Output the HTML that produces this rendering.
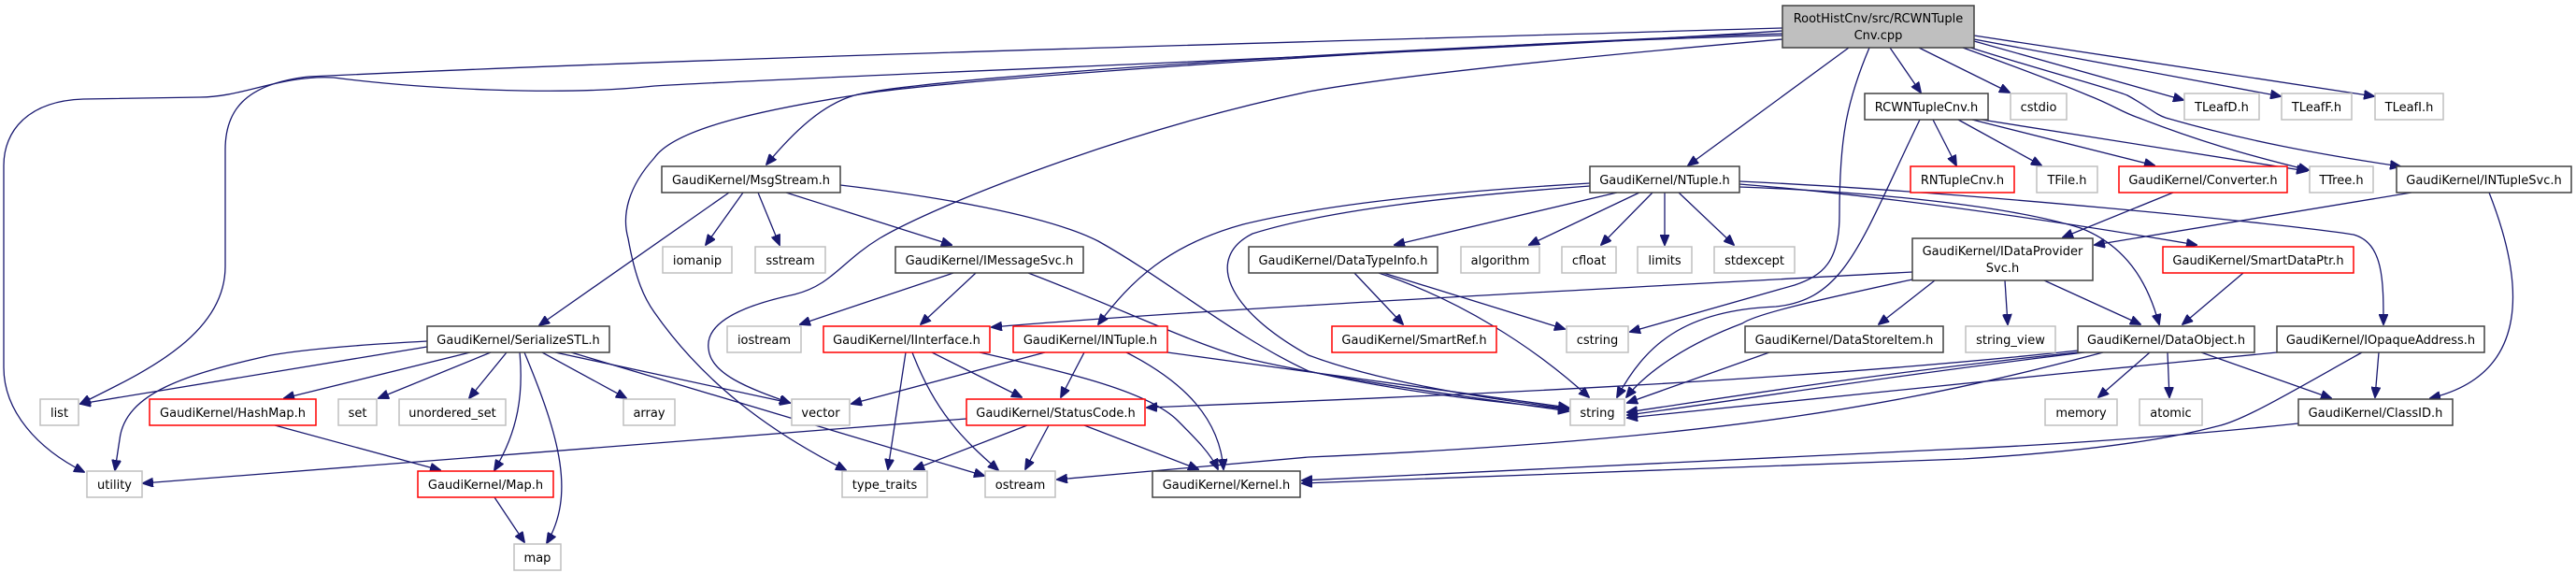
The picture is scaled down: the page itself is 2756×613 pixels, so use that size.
<!DOCTYPE html>
<html><head><meta charset="utf-8"><style>
html,body{margin:0;padding:0;background:#fff;}
svg{display:block;}
text{font-family:"DejaVu Sans","Liberation Sans",sans-serif;font-size:13px;fill:#000;text-anchor:middle;}
.e{fill:none;stroke:#191970;stroke-width:1.3;marker-end:url(#a);}
.k{fill:#fff;stroke:#404040;stroke-width:1.5;}
.r{fill:#fff;stroke:#ff0000;stroke-width:1.5;}
.g{fill:#fff;stroke:#bfbfbf;stroke-width:1.5;}
</style></head><body>
<svg width="2756" height="613" viewBox="0 0 2756 613" xmlns="http://www.w3.org/2000/svg">
<defs><marker id="a" markerWidth="12" markerHeight="10" refX="11" refY="5" orient="auto" markerUnits="userSpaceOnUse"><path d="M0,0 L12,5 L0,10 z" fill="#191970" stroke="#191970"/></marker></defs>

<!-- edges -->
<path class="e" d="M1907,30 C1400,45 800,60 330,82 C260,90 241,120 241,160 L241,285 C241,360 150,400 86,432"/>
<path class="e" d="M1907,33 C1500,60 900,80 700,92 C600,103 450,95 357,83 C300,80 260,104 214,104 L89,106 C30,108 4,140 4,177 L4,393 C4,440 40,480 90,505"/>
<path class="e" d="M1907,38 C1600,45 1000,80 914,102 C880,112 850,140 820,176"/>
<path class="e" d="M1907,42 C1700,60 1500,80 1400,98 C1200,140 1000,220 941,255 C900,280 890,305 850,315 C780,330 755,350 758,373 C760,400 800,415 845,431"/>
<path class="e" d="M1907,36 C1600,45 1000,85 914,102 C800,120 720,140 700,169 C672,200 665,230 672,255 C680,300 690,320 700,334 C760,420 840,470 905,503"/>
<path class="e" d="M2000,51 C1975,110 1968,150 1968,230 C1968,280 1950,295 1920,305 L1744,355"/>
<path class="e" d="M1978,51 L1806,177"/>
<path class="e" d="M2022,51 L2055,99"/>
<path class="e" d="M2053,51 L2150,99"/>
<path class="e" d="M2112,44 L2336,107"/>
<path class="e" d="M2112,42 L2440,103"/>
<path class="e" d="M2112,38 L2540,103"/>
<path class="e" d="M2100,51 C2180,80 2210,92 2234,102 C2260,112 2270,120 2288,126 C2350,150 2400,165 2470,182"/>
<path class="e" d="M2105,50 C2200,80 2250,92 2276,102 C2300,115 2305,122 2317,126 C2400,150 2480,165 2568,178"/>

<path class="e" d="M2068,128 L2093,177"/>
<path class="e" d="M2095,128 L2184,177"/>
<path class="e" d="M2110,128 L2305,177"/>
<path class="e" d="M2120,128 L2468,183"/>
<path class="e" d="M2054,128 C1990,260 1975,320 1900,328 C1800,332 1760,370 1730,425"/>

<path class="e" d="M780,206 L577,348"/>
<path class="e" d="M795,206 L755,262"/>
<path class="e" d="M811,206 L834,262"/>
<path class="e" d="M841,206 L1018,262"/>
<path class="e" d="M899,198 C1000,210 1120,230 1175,258 C1250,300 1320,360 1400,397 C1500,420 1600,430 1678,438"/>

<path class="e" d="M1020,292 L856,347"/>
<path class="e" d="M1044,292 L985,347"/>
<path class="e" d="M1100,292 C1200,330 1280,370 1340,385 C1450,410 1600,428 1678,440"/>

<path class="e" d="M1730,206 L1492,262"/>
<path class="e" d="M1754,206 L1636,262"/>
<path class="e" d="M1768,206 L1713,262"/>
<path class="e" d="M1781,206 L1781,262"/>
<path class="e" d="M1796,206 L1855,262"/>
<path class="e" d="M1701,196 C1550,205 1420,218 1330,240 C1250,262 1210,300 1175,347"/>
<path class="e" d="M1701,199 C1550,210 1420,225 1340,250 C1290,275 1310,330 1400,380 C1480,410 1600,428 1678,437"/>
<path class="e" d="M1861,197 C2050,212 2250,245 2350,262"/>
<path class="e" d="M1861,200 C2000,205 2150,220 2226,244 C2280,265 2300,310 2310,347"/>
<path class="e" d="M1861,194 C2100,205 2450,240 2518,251 C2550,260 2550,300 2550,347"/>

<path class="e" d="M1449,292 L1501,347"/>
<path class="e" d="M1480,292 L1674,352"/>
<path class="e" d="M1475,292 C1560,320 1640,370 1700,425"/>

<path class="e" d="M2046,291 C1700,310 1300,330 1061,350"/>
<path class="e" d="M2046,299 C1950,320 1880,335 1864,346 C1800,370 1760,400 1740,425"/>
<path class="e" d="M2070,300 L2010,347"/>
<path class="e" d="M2145,300 L2148,347"/>
<path class="e" d="M2187,300 L2290,347"/>
<path class="e" d="M2325,206 L2207,254"/>
<path class="e" d="M2580,206 L2241,262"/>
<path class="e" d="M2663,206 C2700,300 2710,400 2600,426"/>
<path class="e" d="M2400,292 L2335,347"/>
<path class="e" d="M1893,377 L1741,431"/>

<path class="e" d="M2300,377 L2245,425"/>
<path class="e" d="M2319,377 L2321,425"/>
<path class="e" d="M2355,377 L2494,426"/>
<path class="e" d="M2223,377 C2000,400 1850,425 1741,441"/>
<path class="e" d="M2230,377 C2000,405 1850,430 1741,444"/>
<path class="e" d="M2223,375 C1900,410 1500,425 1227,436"/>
<path class="e" d="M2250,377 C2050,430 1850,470 1400,489 L1131,513"/>
<path class="e" d="M2436,377 C2200,400 1900,430 1741,447"/>
<path class="e" d="M2545,377 L2541,425"/>
<path class="e" d="M2527,377 C2450,420 2400,450 2372,456 C2300,475 2200,485 2100,491 L1393,517"/>
<path class="e" d="M2459,453 C2300,470 2150,478 2100,480 L1393,514"/>

<path class="e" d="M457,371 L86,432"/>
<path class="e" d="M457,365 C400,368 330,373 290,380 C200,400 134,420 128,470 L123,503"/>
<path class="e" d="M503,377 L304,426"/>
<path class="e" d="M525,377 L405,426"/>
<path class="e" d="M542,377 L502,426"/>
<path class="e" d="M556,377 C560,420 555,460 529,503"/>
<path class="e" d="M561,377 C600,470 615,530 585,581"/>
<path class="e" d="M580,377 L670,426"/>
<path class="e" d="M594,377 L845,431"/>
<path class="e" d="M611,377 L1053,509"/>
<path class="e" d="M294,455 L471,503"/>
<path class="e" d="M529,532 L561,580"/>

<path class="e" d="M969,377 L950,502"/>
<path class="e" d="M976,377 C1000,440 1030,470 1068,503"/>
<path class="e" d="M997,377 L1093,425"/>
<path class="e" d="M1048,377 C1150,400 1230,420 1260,450 C1280,470 1295,485 1303,502"/>
<path class="e" d="M1118,377 L911,432"/>
<path class="e" d="M1160,377 L1135,425"/>
<path class="e" d="M1205,377 C1270,410 1305,450 1309,502"/>
<path class="e" d="M1249,377 L1678,436"/>
<path class="e" d="M1034,448 L153,517"/>
<path class="e" d="M1099,455 L978,502"/>
<path class="e" d="M1122,455 L1097,502"/>
<path class="e" d="M1160,455 L1282,502"/>

<!-- nodes -->
<rect x="1907" y="6" width="205" height="45" fill="#bfbfbf" stroke="#404040" stroke-width="1.5"/>
<text x="2009.5" y="24">RootHistCnv/src/RCWNTuple</text><text x="2009.5" y="42">Cnv.cpp</text>

<rect class="k" x="1995" y="100" width="132" height="28"/><text x="2061" y="119">RCWNTupleCnv.h</text>
<rect class="g" x="2151" y="100" width="60" height="28"/><text x="2181" y="119">cstdio</text>
<rect class="g" x="2337" y="100" width="80" height="28"/><text x="2377" y="119">TLeafD.h</text>
<rect class="g" x="2441" y="100" width="75" height="28"/><text x="2478.5" y="119">TLeafF.h</text>
<rect class="g" x="2541" y="100" width="73" height="28"/><text x="2577.5" y="119">TLeafI.h</text>

<rect class="k" x="708" y="178" width="191" height="28"/><text x="803.5" y="197">GaudiKernel/MsgStream.h</text>
<rect class="k" x="1701" y="178" width="160" height="28"/><text x="1781" y="197">GaudiKernel/NTuple.h</text>
<rect class="r" x="2044" y="178" width="111" height="28"/><text x="2099.5" y="197">RNTupleCnv.h</text>
<rect class="g" x="2179" y="178" width="65" height="28"/><text x="2211.5" y="197">TFile.h</text>
<rect class="r" x="2267" y="178" width="180" height="28"/><text x="2357" y="197">GaudiKernel/Converter.h</text>
<rect class="g" x="2471" y="178" width="68" height="28"/><text x="2505" y="197">TTree.h</text>
<rect class="k" x="2564" y="178" width="187" height="28"/><text x="2657.5" y="197">GaudiKernel/INTupleSvc.h</text>

<rect class="g" x="709" y="264" width="74" height="28"/><text x="746" y="283">iomanip</text>
<rect class="g" x="808" y="264" width="75" height="28"/><text x="845.5" y="283">sstream</text>
<rect class="k" x="958" y="264" width="201" height="28"/><text x="1058.5" y="283">GaudiKernel/IMessageSvc.h</text>
<rect class="k" x="1336" y="264" width="202" height="28"/><text x="1437" y="283">GaudiKernel/DataTypeInfo.h</text>
<rect class="g" x="1563" y="264" width="84" height="28"/><text x="1605" y="283">algorithm</text>
<rect class="g" x="1671" y="264" width="58" height="28"/><text x="1700" y="283">cfloat</text>
<rect class="g" x="1752" y="264" width="58" height="28"/><text x="1781" y="283">limits</text>
<rect class="g" x="1834" y="264" width="86" height="28"/><text x="1877" y="283">stdexcept</text>
<rect class="k" x="2046" y="255" width="193" height="45"/><text x="2142.5" y="273">GaudiKernel/IDataProvider</text><text x="2142.5" y="291">Svc.h</text>
<rect class="r" x="2314" y="264" width="204" height="28"/><text x="2416" y="283">GaudiKernel/SmartDataPtr.h</text>

<rect class="k" x="457" y="349" width="195" height="28"/><text x="554.5" y="368">GaudiKernel/SerializeSTL.h</text>
<rect class="g" x="778" y="349" width="79" height="28"/><text x="817.5" y="368">iostream</text>
<rect class="r" x="881" y="349" width="178" height="28"/><text x="970" y="368">GaudiKernel/IInterface.h</text>
<rect class="r" x="1084" y="349" width="165" height="28"/><text x="1166.5" y="368">GaudiKernel/INTuple.h</text>
<rect class="r" x="1425" y="349" width="176" height="28"/><text x="1513" y="368">GaudiKernel/SmartRef.h</text>
<rect class="g" x="1676" y="349" width="66" height="28"/><text x="1709" y="368">cstring</text>
<rect class="k" x="1867" y="349" width="212" height="28"/><text x="1973" y="368">GaudiKernel/DataStoreItem.h</text>
<rect class="g" x="2103" y="349" width="96" height="28"/><text x="2151" y="368">string_view</text>
<rect class="k" x="2223" y="349" width="189" height="28"/><text x="2317.5" y="368">GaudiKernel/DataObject.h</text>
<rect class="k" x="2436" y="349" width="222" height="28"/><text x="2547" y="368">GaudiKernel/IOpaqueAddress.h</text>

<rect class="g" x="43" y="427" width="41" height="28"/><text x="63.5" y="446">list</text>
<rect class="r" x="160" y="427" width="178" height="28"/><text x="249" y="446">GaudiKernel/HashMap.h</text>
<rect class="g" x="362" y="427" width="41" height="28"/><text x="382.5" y="446">set</text>
<rect class="g" x="427" y="427" width="114" height="28"/><text x="484" y="446">unordered_set</text>
<rect class="g" x="667" y="427" width="55" height="28"/><text x="694.5" y="446">array</text>
<rect class="g" x="847" y="427" width="62" height="28"/><text x="878" y="446">vector</text>
<rect class="r" x="1034" y="427" width="191" height="28"/><text x="1129.5" y="446">GaudiKernel/StatusCode.h</text>
<rect class="g" x="1680" y="427" width="58" height="28"/><text x="1709" y="446">string</text>
<rect class="g" x="2188" y="427" width="77" height="28"/><text x="2226.5" y="446">memory</text>
<rect class="g" x="2289" y="427" width="67" height="28"/><text x="2322.5" y="446">atomic</text>
<rect class="k" x="2459" y="427" width="165" height="28"/><text x="2541.5" y="446">GaudiKernel/ClassID.h</text>

<rect class="g" x="93" y="504" width="59" height="28"/><text x="122.5" y="523">utility</text>
<rect class="r" x="447" y="504" width="145" height="28"/><text x="519.5" y="523">GaudiKernel/Map.h</text>
<rect class="g" x="901" y="504" width="91" height="28"/><text x="946.5" y="523">type_traits</text>
<rect class="g" x="1054" y="504" width="75" height="28"/><text x="1091.5" y="523">ostream</text>
<rect class="k" x="1233" y="504" width="158" height="28"/><text x="1312" y="523">GaudiKernel/Kernel.h</text>

<rect class="g" x="550" y="582" width="50" height="28"/><text x="575" y="601">map</text>
</svg>
</body></html>
